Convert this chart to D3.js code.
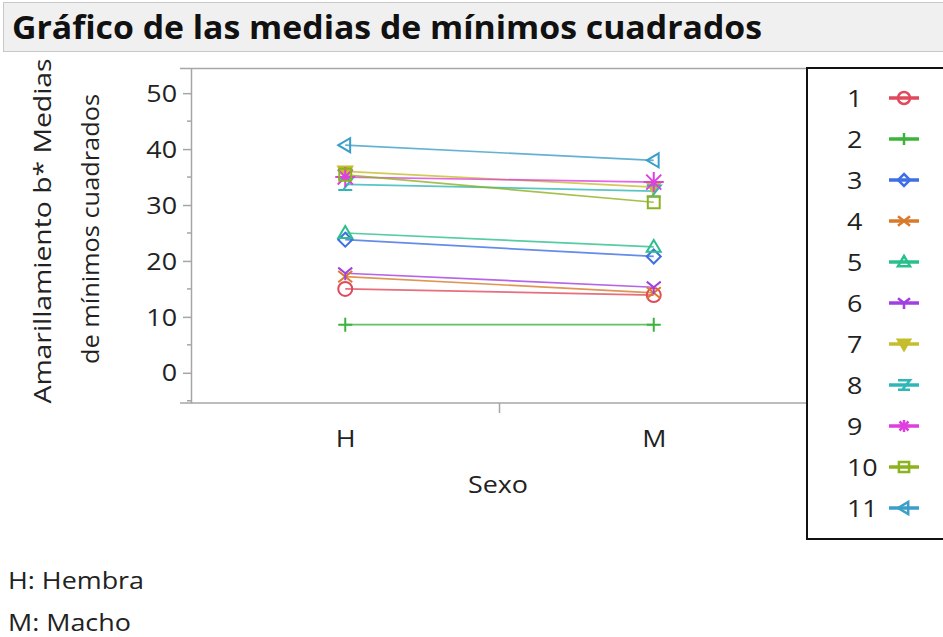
<!DOCTYPE html>
<html>
<head>
<meta charset="utf-8">
<script src="https://cdn.jsdelivr.net/npm/d3@7"></script>
<style>
  html, body { margin: 0; padding: 0; background: #ffffff; }
  svg { display: block; font-family: "Open Sans", "Noto Sans", sans-serif; }
</style>
</head>
<body>
<svg id="chart" width="943" height="637"></svg>
<script>
// Least-squares means of b* yellowness by sex, one series per group 1–11
const sexes = ["H", "M"];
const groups = ["1", "2", "3", "4", "5", "6", "7", "8", "9", "10", "11"];
const meansH = [15.0, 8.6, 23.8, 17.2, 25.0, 17.8, 36.0, 33.7, 35.0, 35.4, 40.7];
const meansM = [13.9, 8.6, 20.8, 14.3, 22.5, 15.3, 33.2, 32.5, 34.1, 30.5, 38.0];
const yTicks = [0, 10, 20, 30, 40, 50];
const yMinorTicks = [-5, 5, 15, 25, 35, 45];
const colors = ["#e04a5c", "#3cb43c", "#3f6fe4", "#d97a2b", "#2abf8d", "#a23fe0",
                "#c6bd2c", "#2fb7b7", "#de3fde", "#8db21f", "#3c9fc8"];
const markers = ["circle", "plus", "diamond", "cross", "triUp", "ystar",
                 "triDown", "zed", "asterisk", "square", "triLeft"];
const footnotes = ["H: Hembra", "M: Macho"];

const svg = d3.select("#chart");
const FS = 24;          // body text size
const STRETCH = 1.12;   // the typeface runs a bit wider than Open Sans

function widen(sel, k) {
  sel.each(function () {
    const w = this.getComputedTextLength();
    d3.select(this).attr("textLength", w * (k || STRETCH)).attr("lengthAdjust", "spacingAndGlyphs");
  });
  return sel;
}
function fitTo(sel, w) {
  return sel.attr("textLength", w).attr("lengthAdjust", "spacingAndGlyphs");
}

// Title bar
svg.append("rect").attr("x", 3.5).attr("y", 2.5).attr("width", 960).attr("height", 49)
  .attr("fill", "#f0f0f0").attr("stroke", "#c8c8c8");
fitTo(svg.append("text").attr("x", 12).attr("y", 39)
  .attr("font-size", 33).attr("font-weight", 700).attr("fill", "#111")
  .text("Gráfico de las medias de mínimos cuadrados"), 750);

// Plot frame
const plot = { left: 191, right: 808, top: 68, bottom: 403 };
const x = d3.scalePoint().domain(sexes).range([plot.left, plot.right]).padding(0.5);
const y = d3.scaleLinear().domain([-5.4, 54.5]).range([plot.bottom, plot.top]);
const axisColor = "#a6a6a6";

// top border, extended past the y axis
svg.append("line").attr("x1", 180).attr("x2", plot.right).attr("y1", plot.top + 0.5).attr("y2", plot.top + 0.5)
  .attr("stroke", axisColor).attr("stroke-width", 1.5);

// y axis
const yAxis = svg.append("g").attr("transform", `translate(${plot.left},0)`)
  .call(d3.axisLeft(y).tickValues(yTicks).tickSize(8).tickPadding(6).tickSizeOuter(0));
yAxis.select(".domain").attr("stroke", axisColor).attr("stroke-width", 1.5);
yAxis.selectAll(".tick line").attr("stroke", axisColor).attr("stroke-width", 1.5);
yAxis.selectAll(".tick text").attr("font-size", FS).attr("fill", "#222")
  .attr("font-family", "'Open Sans', sans-serif").attr("dy", "0.34em");
widen(yAxis.selectAll(".tick text"));
svg.append("g").selectAll("line").data(yMinorTicks).join("line")
  .attr("x1", plot.left - 4).attr("x2", plot.left)
  .attr("y1", d => y(d)).attr("y2", d => y(d))
  .attr("stroke", axisColor).attr("stroke-width", 1.5);

// x axis
const xAxis = svg.append("g").attr("transform", `translate(0,${plot.bottom})`)
  .call(d3.axisBottom(x).tickSize(0).tickPadding(27).tickSizeOuter(0));
xAxis.select(".domain").remove();
xAxis.selectAll(".tick text").attr("font-size", FS).attr("fill", "#222")
  .attr("font-family", "'Open Sans', sans-serif");
widen(xAxis.selectAll(".tick text"));
svg.append("line").attr("x1", 180).attr("x2", plot.right).attr("y1", plot.bottom).attr("y2", plot.bottom)
  .attr("stroke", axisColor).attr("stroke-width", 1.5);
// divider tick between the two categories
const midX = (x("H") + x("M")) / 2;
svg.append("line").attr("x1", midX).attr("x2", midX).attr("y1", plot.bottom).attr("y2", plot.bottom + 10)
  .attr("stroke", axisColor).attr("stroke-width", 1.5);

// axis titles
widen(svg.append("text").attr("x", 498).attr("y", 493).attr("text-anchor", "middle")
  .attr("font-size", FS).attr("fill", "#222").text("Sexo"));
const yl = svg.append("g").attr("transform", "translate(0,231) rotate(-90)");
fitTo(yl.append("text").attr("x", 0).attr("y", 51).attr("text-anchor", "middle")
  .attr("font-size", FS).attr("fill", "#222").text("Amarillamiento b* Medias"), 345);
fitTo(yl.append("text").attr("x", 2).attr("y", 99).attr("text-anchor", "middle")
  .attr("font-size", FS).attr("fill", "#222").text("de mínimos cuadrados"), 270);

// Marker shapes
function markerPath(kind, r) {
  const p = d3.path();
  switch (kind) {
    case "circle": p.moveTo(r, 0); p.arc(0, 0, r, 0, 2 * Math.PI); break;
    case "plus": p.moveTo(-r, 0); p.lineTo(r, 0); p.moveTo(0, -r); p.lineTo(0, r); break;
    case "diamond": p.moveTo(0, -r); p.lineTo(r, 0); p.lineTo(0, r); p.lineTo(-r, 0); p.closePath(); break;
    case "cross": p.moveTo(-r, -r * 0.8); p.lineTo(r, r * 0.8); p.moveTo(-r, r * 0.8); p.lineTo(r, -r * 0.8); break;
    case "triUp": p.moveTo(0, -r); p.lineTo(r, r * 0.7); p.lineTo(-r, r * 0.7); p.closePath(); break;
    case "ystar": p.moveTo(-r, -r * 0.8); p.lineTo(0, 0); p.lineTo(r, -r * 0.8); p.moveTo(0, 0); p.lineTo(0, r); break;
    case "triDown": p.moveTo(-r, -r * 0.7); p.lineTo(r, -r * 0.7); p.lineTo(0, r); p.closePath(); break;
    case "zed": p.moveTo(-r, -r * 0.8); p.lineTo(r, -r * 0.8); p.lineTo(-r * 0.3, r * 0.8);
      p.moveTo(-r, r * 0.8); p.lineTo(r, r * 0.8); break;
    case "asterisk": p.moveTo(-r, 0); p.lineTo(r, 0); p.moveTo(0, -r); p.lineTo(0, r);
      p.moveTo(-r * 0.75, -r * 0.75); p.lineTo(r * 0.75, r * 0.75);
      p.moveTo(-r * 0.75, r * 0.75); p.lineTo(r * 0.75, -r * 0.75); break;
    case "square": p.rect(-r * 0.85, -r * 0.85, r * 1.7, r * 1.7); break;
    case "triLeft": p.moveTo(-r, 0); p.lineTo(r * 0.7, -r); p.lineTo(r * 0.7, r); p.closePath(); break;
  }
  return p.toString();
}
const filled = new Set(["triDown"]);
const plotSize = m => (m === "asterisk" ? 10 : 7);

// Series lines and markers
const series = groups.map((g, i) => ({
  group: g, color: colors[i], marker: markers[i],
  values: [{ sex: "H", v: meansH[i] }, { sex: "M", v: meansM[i] }]
}));
const line = d3.line().x(d => x(d.sex)).y(d => y(d.v));
const layer = svg.append("g");
layer.selectAll("path.series").data(series).join("path").attr("class", "series")
  .attr("d", d => line(d.values)).attr("fill", "none")
  .attr("stroke", d => d.color).attr("stroke-width", 1.7).attr("stroke-opacity", 0.8);
series.forEach(s => {
  layer.selectAll(null).data(s.values).join("path")
    .attr("transform", d => `translate(${x(d.sex)},${y(d.v)})`)
    .attr("d", markerPath(s.marker, plotSize(s.marker)))
    .attr("fill", filled.has(s.marker) ? s.color : "none")
    .attr("stroke", s.color).attr("stroke-width", 2);
});

// Legend
const leg = { left: 807, top: 68, bottom: 539 };
svg.append("rect").attr("x", leg.left).attr("y", leg.top).attr("width", 200).attr("height", leg.bottom - leg.top)
  .attr("fill", "#fff").attr("stroke", "#111").attr("stroke-width", 2);
const rowY = d3.scalePoint().domain(groups).range([98, 508]);
const items = svg.append("g").selectAll("g").data(series).join("g")
  .attr("transform", d => `translate(0,${rowY(d.group)})`);
widen(items.append("text").attr("x", 847).attr("y", 9).attr("font-size", FS).attr("fill", "#222")
  .text(d => d.group));
items.append("line").attr("x1", 889).attr("x2", 919).attr("y1", 0).attr("y2", 0)
  .attr("stroke", d => d.color).attr("stroke-width", 3.5);
items.append("path").attr("transform", "translate(904,0)")
  .attr("d", d => markerPath(d.marker, 6))
  .attr("fill", d => filled.has(d.marker) ? d.color : "none")
  .attr("stroke", d => d.color).attr("stroke-width", 2.5);

// Category key
svg.append("g").selectAll("text").data(footnotes).join("text")
  .attr("x", 8).attr("y", (d, i) => 589 + i * 42).attr("font-size", FS).attr("fill", "#222")
  .text(d => d)
  .call(widen);
</script>
</body>
</html>
